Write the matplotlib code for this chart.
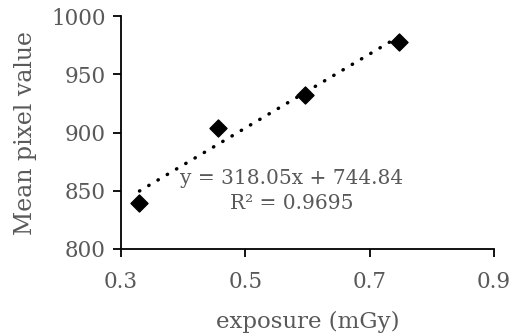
import numpy as np
import matplotlib
matplotlib.use('Agg')
import matplotlib.pyplot as plt

exposure = [0.33, 0.456, 0.596, 0.747]
pixel = [839.5, 904, 932, 978]
slope = 318.05
intercept = 744.84
r2 = 0.9695

plt.rcParams['font.family'] = 'DejaVu Serif'
grey = '#595959'

fig = plt.figure(figsize=(5.12, 3.36), dpi=100)
ax = fig.add_axes([0.236, 0.259, 0.729, 0.693])

# trendline between first and last point
xs = np.array([min(exposure), max(exposure)])
ax.plot(xs, intercept + slope * xs, color='black', linestyle=(0, (0.1, 3.0)),
        linewidth=2.5, dash_capstyle='round', zorder=2)
ax.scatter(exposure, pixel, marker='D', s=75, color='black', zorder=3)

ax.set_xlim(0.3, 0.9)
ax.set_ylim(800, 1000)
ax.set_xticks([0.3, 0.5, 0.7, 0.9])
ax.set_xticklabels(['0.3', '0.5', '0.7', '0.9'])
ax.set_yticks([800, 850, 900, 950, 1000])

for s in ['top', 'right']:
    ax.spines[s].set_visible(False)
for s in ['left', 'bottom']:
    ax.spines[s].set_linewidth(1.3)
ax.tick_params(direction='out', length=6, width=1.3, labelsize=15.5,
               labelcolor=grey)
ax.tick_params(axis='x', pad=10)
ax.tick_params(axis='y', pad=5)

ax.set_xlabel('exposure (mGy)', fontsize=16.5, color=grey, labelpad=13)
ax.set_ylabel('Mean pixel value', fontsize=17, color=grey, labelpad=10)

ax.text(0.458, 0.249, 'y = %.2fx + %.2f\nR² = %.4f' % (slope, intercept, r2),
        transform=ax.transAxes, ha='center', va='center', fontsize=14.5,
        color=grey, linespacing=1.35)

fig.savefig('out.png', dpi=100)
